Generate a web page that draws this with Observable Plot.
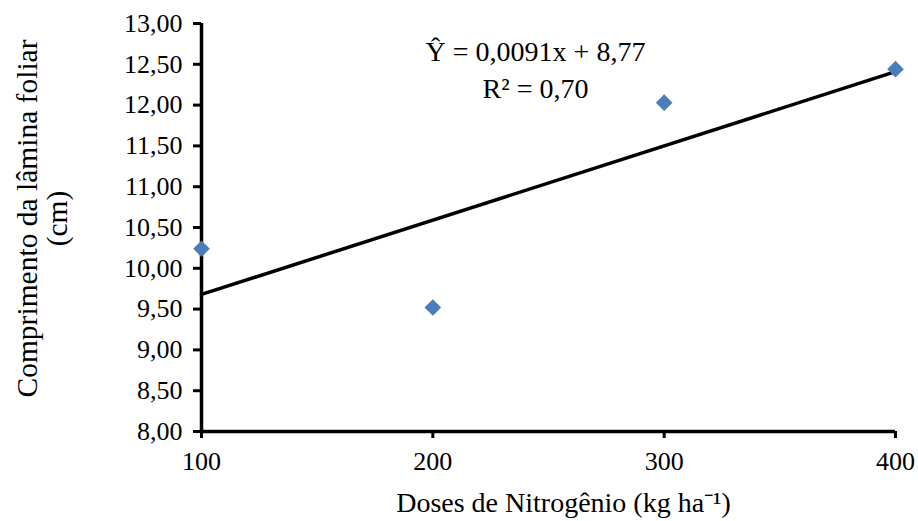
<!DOCTYPE html>
<html>
<head>
<meta charset="utf-8">
<script src="https://cdn.jsdelivr.net/npm/d3@7"></script>
<script src="https://cdn.jsdelivr.net/npm/@observablehq/plot@0.6"></script>
<style>
  html, body { margin: 0; padding: 0; background: #fff; }
  #chart { width: 918px; height: 521px; }
</style>
</head>
<body>
<div id="chart"></div>
<script>
// Data
const doses = [100, 200, 300, 400];
const comprimento = [10.24, 9.52, 12.03, 12.44];
const xTicks = [100, 200, 300, 400];
const yTicks = [8, 8.5, 9, 9.5, 10, 10.5, 11, 11.5, 12, 12.5, 13];
const slope = [0.0091];
const intercept = [8.77];
const equationText = ["Ŷ = 0,0091x + 8,77", "R² = 0,70"];
const xTitle = ["Doses de Nitrogênio (kg ha⁻¹)"];
const yTitle = ["Comprimento da lâmina foliar\n(cm)"];

const points = doses.map((d, i) => ({x: d, y: comprimento[i]}));
const fit = [d3.min(doses), d3.max(doses)].map(x => ({x, y: slope[0] * x + intercept[0]}));
const fmt = v => d3.format(".2f")(v).replace(".", ",");

const font = "'Liberation Serif', 'Times New Roman', serif";
const fs = 26;
const fsTitle = 28;

const chart = Plot.plot({
  width: 918,
  height: 521,
  marginLeft: 201,
  marginRight: 23,
  marginTop: 23,
  marginBottom: 90,
  style: {fontFamily: font, fontSize: fs + "px", color: "#000", background: "#fff"},
  x: {domain: [100, 400]},
  y: {domain: [8, 13]},
  marks: [
    Plot.axisY({ticks: yTicks, tickFormat: fmt, tickSize: 8, tickPadding: 11, strokeWidth: 3, label: null, fontSize: fs, fill: "#000"}),
    Plot.axisX({ticks: xTicks, tickFormat: d => String(d), tickSize: 7, tickPadding: 13, strokeWidth: 3, label: null, fontSize: fs, fill: "#000"}),
    Plot.ruleX([100], {stroke: "#000", strokeWidth: 3.5}),
    Plot.ruleY([8], {stroke: "#000", strokeWidth: 3.5}),
    Plot.line(fit, {x: "x", y: "y", stroke: "#000", strokeWidth: 3.5}),
    Plot.dot(points, {x: "x", y: "y", symbol: "diamond2", r: 7.5, fill: "#4a7ebb", stroke: "none"}),
    Plot.text([equationText.join("\n")], {frameAnchor: "top-left", dx: 334, dy: 11, textAnchor: "middle", lineAnchor: "top", lineHeight: 1.32, fontSize: fsTitle, fill: "#000"}),
    Plot.text(xTitle, {frameAnchor: "bottom", dx: 15, dy: 72, textAnchor: "middle", lineAnchor: "middle", fontSize: fsTitle, fill: "#000"}),
    Plot.text(yTitle, {frameAnchor: "left", dx: -159, dy: -9, rotate: -90, textAnchor: "middle", lineAnchor: "middle", lineHeight: 1.0, fontSize: 29.5, fill: "#000"})
  ]
});
document.getElementById("chart").appendChild(chart);
</script>
</body>
</html>
